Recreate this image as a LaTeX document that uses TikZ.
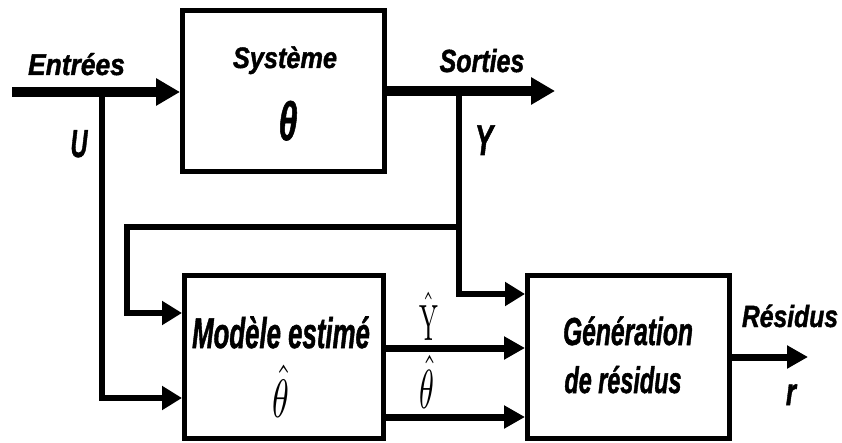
\documentclass[tikz,border=0pt]{standalone}
\usepackage{fontspec}
\usepackage{graphicx}
\usetikzlibrary{arrows.meta}
\newfontfamily\labfont{Liberation Sans Bold Italic}[FakeBold=1.5]
\newcommand\txtsc[3]{\scalebox{#1}[#2]{\labfont\fontsize{10}{12}\selectfont #3}}
\newcommand\mathsc[3]{\scalebox{#1}[#2]{$#3$}}
\begin{document}
\begin{tikzpicture}[x=1pt,y=-1pt,
  blk/.style={draw,line width=5pt,inner sep=0pt,minimum height=163pt},
  txt/.style={inner sep=0pt,anchor=base},
  bigflow/.style={line width=10pt,-{Triangle[length=24pt,width=26pt]}},
  flow/.style={line width=7pt,-{Triangle[length=21pt,width=22pt]}},
  thinflow/.style={line width=6pt,-{Triangle[length=20pt,width=23pt]}}]
\useasboundingbox (0,0) rectangle (842,443);

% blocks
\node[blk,minimum width=202pt,minimum height=161pt] (sys) at (283.5,91) {};
\node[blk,minimum width=199pt] (mod) at (284,357) {};
\node[blk,minimum width=202pt] (gen) at (628.5,357) {};

% texts
\node[txt] (tin) at (76.5,75) {\txtsc{2.64}{3.0}{Entrées}};
\node[txt] (tsys) at (285,68) {\txtsc{2.53}{2.95}{Système}};
\node[txt] (tth) at (288,140) {\txtsc{3.4}{5.4}{θ}};
\node[txt] (tout) at (482,72) {\txtsc{2.5}{3.2}{Sorties}};
\node[txt] (tu) at (79,157) {\txtsc{2.35}{3.9}{U}};
\node[txt] (ty) at (484,155) {\txtsc{2.7}{4.3}{Y}};
\node[txt] (tmod) at (281,348) {\txtsc{2.58}{4.3}{Modèle estimé}};
\node[txt] (tmth) at (281,417) {\mathsc{3.4}{5.4}{\hat\theta}};
\node[txt] (tgen) at (628,345) {\txtsc{2.46}{3.9}{Génération}};
\node[txt] (tde) at (623,393) {\txtsc{2.34}{3.7}{de résidus}};
\node[txt] (tres) at (790,327) {\txtsc{2.47}{3.07}{Résidus}};
\node[txt] (tr) at (791,405) {\txtsc{2.6}{3.85}{r}};
\node[txt] (tyh) at (429,340) {\mathsc{2.5}{5.1}{\hat{\mathrm{Y}}}};
\node[txt] (tth2) at (427,408) {\mathsc{3.0}{5.5}{\hat\theta}};

% coordinates
\coordinate (in) at (12,92);
\coordinate (out) at (555,91);
\coordinate (utap) at (102,92);
\coordinate (ulev) at (0,398);
\coordinate (ytap) at (459,91);
\coordinate (ylev) at (0,294);
\coordinate (yfb) at (459,227);
\coordinate (fbl) at (127,227);
\coordinate (fblev) at (0,313);
\coordinate (yhlev) at (0,348);
\coordinate (thlev) at (0,417);
\coordinate (rlev) at (0,357);
\coordinate (rout) at (808,357);

% thin wires
\draw[thinflow] (utap) |- (mod.west |- ulev);
\draw[thinflow] (ytap) |- (gen.west |- ylev);
\draw[thinflow] (yfb) -- (fbl) |- (mod.west |- fblev);

% estimate flows
\draw[flow] (mod.east |- yhlev) -- (gen.west |- yhlev);
\draw[flow] (mod.east |- thlev) -- (gen.west |- thlev);
\draw[flow] (gen.east |- rlev) -- (rout);

% main flows
\draw[bigflow] (in) -- (in -| sys.west);
\draw[bigflow] (sys.east |- out) -- (out);
\end{tikzpicture}
\end{document}
